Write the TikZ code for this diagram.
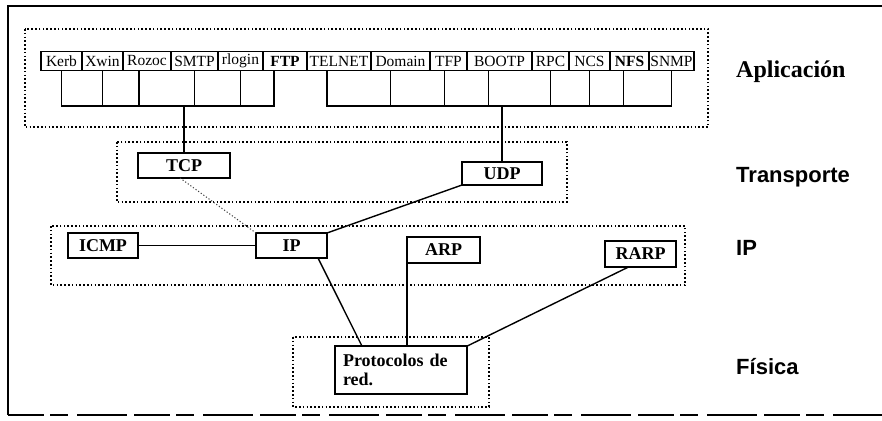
\documentclass[tikz,border=0pt]{standalone}
\usepackage{fontspec}
\setmainfont{Liberation Serif}
\setsansfont{Liberation Sans}
\usetikzlibrary{positioning}

\begin{document}
\begin{tikzpicture}[
    x=1pt, y=-1pt,
    % cajas de la fila de aplicaciones
    appbox/.style={rectangle, draw, line width=1.2pt, outer sep=0pt, inner sep=1pt, minimum height=19pt, font=\fontsize{15.5}{17}\selectfont},
    % cajas de protocolos de cada capa
    protobox/.style={rectangle, draw, line width=1.6pt, outer sep=0pt, inner sep=2pt, font=\bfseries\fontsize{18}{20}\selectfont},
    zone/.style={line width=1.6pt, dash pattern=on 1.6pt off 2.2pt},
    link/.style={line width=1.4pt},
    faintlink/.style={line width=1pt, draw=black!75, dash pattern=on 1.2pt off 2pt},
    layername/.style={anchor=west, inner sep=0pt, font=\bfseries\sffamily\fontsize{22}{24}\selectfont}
]
\useasboundingbox (0,0) rectangle (882,420);

% marco exterior
\draw[line width=2pt] (882,6) -- (8,6) -- (8,415);
\draw[line width=2pt, dash pattern=on 36pt off 6pt on 18pt off 9pt on 50pt off 7pt] (8,415) -- (882,415);

% zonas punteadas de cada capa
\draw[zone] (25,29) rectangle (708,127);
\draw[zone] (117,142) rectangle (567,202);
\draw[zone] (51,226) rectangle (685,285);
\draw[zone] (293,337) rectangle (489,407);

% fila de aplicaciones
\node[appbox, minimum width=41pt] (kerb) at (61.5,61) {Kerb};
\node[appbox, minimum width=41pt, right=0pt of kerb] (xwin) {Xwin};
\node[appbox, minimum width=48pt, right=0pt of xwin] (rozoc) {Rozoc};
\node[appbox, minimum width=47pt, right=0pt of rozoc] (smtp) {SMTP};
\node[appbox, minimum width=45pt, right=0pt of smtp] (rlogin) {rlogin};
\node[appbox, minimum width=44pt, right=0pt of rlogin, font=\bfseries\fontsize{15.5}{17}\selectfont] (ftp) {FTP};
\node[appbox, minimum width=64pt, right=0pt of ftp] (telnet) {TELNET};
\node[appbox, minimum width=59pt, right=0pt of telnet] (domain) {Domain};
\node[appbox, minimum width=37pt, right=0pt of domain] (tfp) {TFP};
\node[appbox, minimum width=65pt, right=0pt of tfp] (bootp) {BOOTP};
\node[appbox, minimum width=37pt, right=0pt of bootp] (rpc) {RPC};
\node[appbox, minimum width=41pt, right=0pt of rpc] (ncs) {NCS};
\node[appbox, minimum width=39pt, right=0pt of ncs, font=\bfseries\fontsize{15.5}{17}\selectfont] (nfs) {NFS};
\node[appbox, minimum width=45pt, right=0pt of nfs] (snmp) {SNMP};

% protocolos de transporte, red y fisica
\node[protobox, minimum width=92pt, minimum height=25pt] (tcp) at (184,165.5) {TCP};
\node[protobox, minimum width=80pt, minimum height=23pt] (udp) at (502,173.5) {UDP};
\node[protobox, minimum width=70pt, minimum height=25pt] (icmp) at (103,245.5) {ICMP};
\node[protobox, minimum width=71pt, minimum height=25pt] (ipbox) at (291.5,245.5) {IP};
\node[protobox, minimum width=73pt, minimum height=26pt] (arp) at (443.5,250) {ARP};
\node[protobox, minimum width=71pt, minimum height=26pt] (rarp) at (640.5,254) {RARP};
\node[protobox, text width=116pt, inner sep=8pt, minimum height=46pt, align=left, font=\bfseries\fontsize{18}{19}\selectfont] (proto) at (401,370) {Protocolos de\\red.};

% buses hacia TCP y UDP
\coordinate (tcpbus) at (184,106);
\coordinate (udpbus) at (502,106);

\draw[link] (kerb.south) |- (tcpbus);
\draw[link] (xwin.south) |- (tcpbus);
\draw[link] ([xshift=-8pt]rozoc.south) |- (tcpbus);
\draw[link] (smtp.south) |- (tcpbus);
\draw[link] (rlogin.south) |- (tcpbus);
\draw[link] ([xshift=-11pt]ftp.south) |- (tcpbus);
\draw[link] (tcpbus) -- (tcp.north);

\draw[link] ([xshift=-12pt]telnet.south) |- (udpbus);
\draw[link] ([xshift=-10pt]domain.south) |- (udpbus);
\draw[link] ([xshift=-4pt]tfp.south) |- (udpbus);
\draw[link] ([xshift=-11pt]bootp.south) |- (udpbus);
\draw[link] (rpc.south) |- (udpbus);
\draw[link] (ncs.south) |- (udpbus);
\draw[link] ([xshift=-6pt]nfs.south) |- (udpbus);
\draw[link] (snmp.south) |- (udpbus);
\draw[link] (udpbus) -- (udp.north);

% conexiones entre capas
\draw[faintlink] ([xshift=-4pt]tcp.south) -- (ipbox.north west);
\draw[link] (udp.south west) -- (ipbox.north east);
\draw[link] (icmp.east) -- (ipbox.west);
\draw[link] ([xshift=-9pt]ipbox.south east) -- ([xshift=-39pt]proto.north);
\draw[link] (arp.south west) -- (arp.south west |- proto.north);
\draw[link] ([xshift=-12pt]rarp.south) -- (proto.north east);

% nombres de las capas
\node[layername, font=\bfseries\fontsize{24}{26}\selectfont] (aplicacion) at (736,72) {Aplicación};
\node[layername] (transporte) at (736,177) {Transporte};
\node[layername] (iplayer) at (736,248) {IP};
\node[layername] (fisica) at (736,367) {Física};

\end{tikzpicture}
\end{document}
